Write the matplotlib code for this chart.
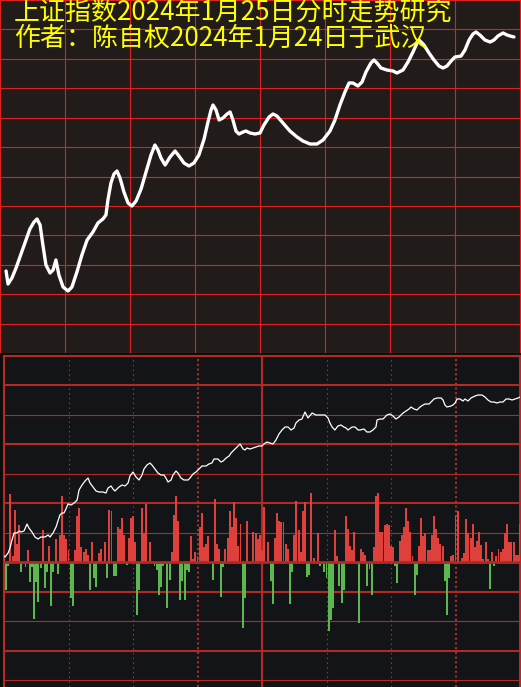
import matplotlib
matplotlib.use('Agg')
import matplotlib.pyplot as plt

plt.rcParams['font.family'] = ['Noto Sans CJK SC', 'DejaVu Sans']
plt.rcParams['lines.scale_dashes'] = False

# 上半部：分时走势（手绘预测曲线），x 为开盘后分钟数
top_t = [2.8, 3.7, 5.5, 7.4, 11.5, 13.8, 15.7, 17.1, 18.5, 19.8, 21.2, 23.1, 24.5, 25.8, 27.2,
         29.1, 31.4, 33.2, 35.5, 37.8, 40.2, 42.9, 45.2, 47.5, 48.9, 49.8, 51.2, 52.6, 54.0,
         55.4, 57.2, 59.1, 60.9, 62.8, 65.1, 67.4, 69.7, 71.5, 72.9, 74.3, 76.2, 78.5, 80.8,
         82.6, 84.9, 87.2, 89.5, 91.8, 94.2, 96.0, 97.4, 98.3, 99.7, 101.1, 102.9, 104.8,
         106.2, 107.5, 108.9, 110.3, 112.2, 113.5, 115.4, 117.7, 120.0, 121.8, 124.2, 126.0,
         127.8, 130.6, 133.8, 137.1, 139.8, 143.1, 146.3, 149.1, 152.3, 154.6, 156.9, 159.2,
         161.1, 162.9, 165.2, 167.1, 168.9, 171.2, 172.6, 174.0, 175.8, 178.6, 181.4, 183.2,
         186.0, 188.3, 190.6, 192.5, 193.4, 195.7, 198.0, 200.3, 202.6, 204.5, 206.3, 208.2,
         210.0, 212.8, 214.6, 216.5, 218.3, 219.7, 221.5, 223.8, 226.2, 228.0, 229.8, 232.2,
         234.0, 235.4, 237.2]
top_v = [82, 69, 75, 85, 110, 124, 131, 134, 128, 108, 88, 80, 83, 93, 78,
         66, 62, 66, 81, 98, 113, 121, 130, 134, 138, 153, 170, 179, 182,
         175, 161, 150, 147, 152, 164, 181, 198, 208, 203, 195, 188, 196, 202,
         197, 190, 187, 190, 198, 214, 231, 243, 248, 243, 233, 235, 239,
         241, 233, 222, 219, 221, 222, 220, 219, 220, 228, 236, 239,
         237, 230, 222, 216, 212, 209, 209, 213, 222, 233, 248, 261,
         270, 270, 267, 271, 281, 290, 293, 290, 285, 283, 282, 280,
         283, 291, 301, 310, 313, 308, 300, 293, 287, 285, 287, 292,
         296, 297, 303, 313, 319, 321, 318, 313, 311, 313, 317, 320,
         318, 317, 316]

# 下半部：分时价格线
line_t = [0, 0.5, 1.9, 2.8, 3.7, 4.7, 6.0, 7.0, 7.9, 9.3, 10.7, 11.6, 13.0, 14.4, 15.8, 17.2,
          19.1, 20.5, 21.4, 22.8, 24.2, 25.1, 26.0, 27.0, 27.9, 28.8, 29.8, 31.2, 32.6, 34.0,
          34.9, 36.3, 37.7, 39.1, 40.0, 41.4, 42.8, 44.2, 46.0, 47.4, 48.4, 49.8, 50.7, 51.6,
          53.5, 54.9, 56.3, 57.7, 58.6, 60.0, 61.4, 62.8, 64.2, 65.1, 66.5, 67.9, 68.8, 70.2,
          71.6, 73.0, 74.4, 75.3, 76.3, 77.7, 78.6, 80.0, 80.9, 82.3, 83.7, 85.6, 86.5, 87.9,
          89.3, 90.7, 92.1, 94.0, 95.3, 96.7, 97.7, 99.5, 100.9, 101.9, 103.3, 104.7, 105.6,
          107.0, 108.4, 109.8, 111.2, 112.1, 113.0, 114.4, 115.8, 117.2, 118.6, 120.0, 120.9,
          122.3, 123.7, 125.1, 126.5, 127.9, 129.3, 130.7, 132.1, 133.5, 134.9, 135.8, 137.2,
          138.6, 140.0, 141.4, 143.3, 145.1, 147.4, 149.3, 150.7, 151.6, 152.6, 153.9, 155.3,
          156.7, 158.1, 159.1, 160.0, 161.9, 163.3, 164.7, 165.6, 167.4, 168.8, 170.2, 171.6,
          173.0, 173.5, 174.9, 176.3, 177.2, 178.1, 179.5, 180.9, 182.3, 183.7, 185.6, 187.0,
          188.4, 189.3, 190.7, 192.1, 193.5, 194.9, 195.8, 197.7, 199.1, 200.0, 201.4, 203.3,
          204.2, 205.1, 206.0, 207.9, 208.8, 209.8, 210.7, 212.1, 213.5, 214.4, 215.8, 217.2,
          219.1, 220.5, 222.3, 223.7, 225.1, 226.5, 227.9, 229.3, 230.7, 232.1, 233.5, 234.9,
          236.3, 237.7, 239.1, 240]
line_v = [6, 5, 9, 14, 22, 29, 29, 31, 30, 31, 38, 34, 30, 25, 23, 25,
          25, 27, 25, 29, 35, 41, 47, 49, 49, 53, 58, 57, 59, 62,
          72, 77, 81, 84, 79, 75, 71, 70, 70, 69, 74, 76, 73, 71,
          75, 77, 76, 79, 86, 90, 85, 82, 87, 93, 97, 99, 97, 93,
          89, 87, 87, 84, 80, 82, 87, 91, 89, 84, 82, 82, 84, 88,
          90, 93, 96, 96, 98, 99, 103, 103, 100, 101, 104, 106, 109,
          112, 115, 118, 113, 112, 114, 113, 114, 115, 116, 116, 118,
          120, 119, 118, 122, 128, 132, 135, 135, 132, 134, 139, 142,
          143, 150, 144, 149, 147, 147, 147, 144, 139, 135, 132, 136,
          137, 135, 134, 132, 135, 135, 132, 132, 133, 130, 130, 132,
          135, 142, 143, 143, 145, 147, 148, 146, 143, 145, 149, 151,
          153, 155, 153, 152, 155, 157, 158, 158, 161, 163, 164, 164,
          162, 157, 155, 156, 157, 159, 163, 163, 161, 163, 161, 164,
          166, 167, 167, 165, 162, 160, 160, 159, 160, 160, 163, 163,
          162, 163, 164, 165]

# 红柱（上）
up_t = [0, 3, 4, 5, 6, 7, 11, 18, 21, 24, 26, 27, 28, 29, 30, 33, 34, 35, 36, 37, 38, 39, 41,
        44, 45, 47, 49, 50, 53, 54, 55, 56, 58, 59, 60, 61, 64, 65, 66, 68, 78, 79, 80, 81,
        87, 88, 89, 90, 91, 92, 93, 94, 95, 98, 99, 100, 103, 104, 105, 106, 107, 108, 109,
        110, 113, 116, 117, 118, 119, 120, 121, 123, 126, 127, 128, 129, 130, 131, 132, 135,
        136, 137, 138, 139, 140, 143, 144, 146, 154, 155, 159, 160, 161, 162, 163, 166, 167,
        168, 172, 173, 174, 175, 176, 177, 178, 179, 180, 181, 184, 185, 186, 187, 188, 189,
        190, 193, 194, 195, 196, 197, 198, 199, 200, 201, 202, 203, 204, 208, 209, 210, 211,
        213, 214, 215, 216, 217, 218, 219, 220, 221, 222, 223, 224, 225, 227, 229, 230, 231,
        232, 233, 234, 235, 236, 237, 238, 239, 240]
up_v = [5, 68, 6, 52, 18, 37, 12, 32, 16, 23, 27, 66, 27, 23, 12, 12, 46, 54, 15, 10, 13, 7, 20,
        9, 13, 20, 52, 51, 35, 33, 44, 27, 24, 44, 46, 20, 54, 29, 58, 20, 10, 47, 66, 41,
        26, 3, 10, 6, 35, 49, 15, 18, 26, 63, 18, 13, 13, 24, 51, 35, 60, 44, 16,
        38, 41, 30, 29, 23, 27, 12, 55, 20, 24, 49, 41, 40, 40, 18, 13, 27,
        61, 32, 10, 51, 60, 69, 4, 29, 32, 6, 46, 33, 16, 12, 30, 13, 10,
        7, 15, 66, 69, 30, 30, 37, 38, 37, 16, 15, 21, 27, 35, 54, 41, 30,
        6, 16, 44, 26, 29, 12, 12, 27, 46, 33, 24, 18, 16, 6, 7, 46, 51,
        4, 9, 43, 29, 24, 38, 15, 21, 30, 17, 3, 20, 3, 10, 6, 13, 10,
        13, 29, 38, 20, 20, 20, 7, 7, 38]

# 绿柱（下）
dn_t = [1, 2, 8, 10, 12, 13, 14, 15, 16, 17, 19, 20, 22, 23, 25, 31, 32, 40, 42, 43, 48, 51,
        52, 57, 62, 63, 70, 71, 72, 73, 74, 76, 77, 82, 83, 84, 85, 86, 97, 101, 102, 111,
        112, 114, 124, 125, 133, 134, 141, 142, 147, 148, 149, 150, 151, 152, 153, 156, 157,
        158, 164, 165, 169, 170, 171, 182, 183, 191, 192, 205, 206, 207, 226, 228]
dn_v = [28, 4, 10, 5, 20, 5, 57, 20, 40, 6, 26, 10, 44, 10, 12, 36, 44, 28, 16, 25, 16, 14,
        14, 3, 53, 28, 4, 8, 33, 25, 4, 46, 18, 38, 19, 38, 8, 10, 18, 35, 5, 66,
        36, 2, 19, 42, 42, 10, 15, 13, 4, 2, 10, 16, 69, 58, 46, 24, 41,
        28, 2, 61, 24, 7, 33, 4, 21, 33, 13, 19, 53, 16, 27, 4]

title1 = '上证指数2024年1月25日分时走势研究'
title2 = '作者：陈自权2024年1月24日于武汉'

W, H = 521, 687
fig = plt.figure(figsize=(W / 100, H / 100), dpi=100, facecolor='#0c0c0c')

# ---- 上图 ----
ax1 = fig.add_axes([0, 334 / H, 1, 353 / H])
ax1.set_facecolor('#211b19')
ax1.set_xlim(0, 240 * 521 / 520)
ax1.set_ylim(0, 353)
for k in range(13):
    ax1.axhline(k * 353 / 12, color='#e02020', lw=0.8, zorder=1)
for k in range(9):
    ax1.axvline(k * 30, color='#e02020', lw=0.8, zorder=1)
ax1.plot(top_t, top_v, color='white', lw=2.4, solid_joinstyle='round',
         solid_capstyle='round', zorder=3)
ax1.set_xticks([])
ax1.set_yticks([])
for s in ax1.spines.values():
    s.set_visible(False)

fig.text(14 / W, 1 - 12 / H, title1, color='#ffff00', fontsize=18.7, va='center', ha='left')
fig.text(14 / W, 1 - 38.5 / H, title2, color='#ffff00', fontsize=18.7, va='center', ha='left')

# ---- 下图 ----
dred = '#b22a26'
ax2 = fig.add_axes([4 / W, 0, 516 / W, 331.5 / H])
ax2.set_facecolor('#131417')
ax2.set_xlim(0, 240)
ax2.set_ylim(-125, 206.5)

thick = {7, 6, 4, 2, 0, -1, -3}
for k in range(-4, 8):
    lw = 1.5 if k in thick else 0.8
    if k == 0:
        lw = 2.0
    ax2.axhline(29.5 * k, color=dred, lw=lw, zorder=4 if k == 0 else 1, clip_on=False)

for t in [30, 60, 150, 180]:
    ax2.axvline(t, color=dred, lw=0.8, linestyle=(0, (1.1, 2.3)), zorder=1)
for t in [90, 210]:
    ax2.axvline(t, color=dred, lw=1.5, linestyle=(0, (1.5, 1.9)), zorder=1)
for t in [0, 120, 240]:
    ax2.axvline(t, color=dred, lw=1.5, zorder=1, clip_on=False)

ax2.bar(up_t, up_v, width=0.9, color='#e0403c', zorder=2)
ax2.bar(dn_t, [-v for v in dn_v], width=0.9, color='#5cb84e', zorder=2)
ax2.plot(line_t, line_v, color='white', lw=0.9, zorder=5)

ax2.set_xticks([])
ax2.set_yticks([])
for s in ax2.spines.values():
    s.set_visible(False)

plt.savefig('out.png', dpi=100, facecolor=fig.get_facecolor())
